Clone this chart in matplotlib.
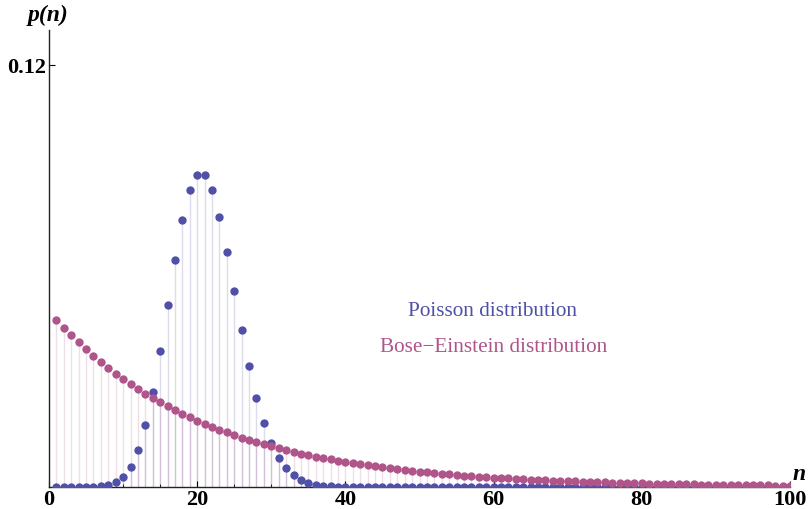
import matplotlib
matplotlib.use("Agg")
import matplotlib.pyplot as plt
import numpy as np

# positions (n index as plotted, 1..100)
positions = list(range(1, 101))

poisson_vals = [
    0.00000, 0.00000, 0.00000, 0.00000, 0.00001, 0.00006, 0.00018, 0.00052, 0.00131, 0.00291,
    0.00582, 0.01058, 0.01763, 0.02712, 0.03874, 0.05165, 0.06456, 0.07595, 0.08439, 0.08884,
    0.08884, 0.08461, 0.07691, 0.06688, 0.05574, 0.04459, 0.03430, 0.02541, 0.01815, 0.01252,
    0.00834, 0.00538, 0.00336, 0.00204, 0.00120, 0.00069, 0.00038, 0.00021, 0.00011, 0.00006,
    0.00003, 0.00001, 0.00001, 0.00000, 0.00000, 0.00000, 0.00000, 0.00000, 0.00000, 0.00000,
    0.00000, 0.00000, 0.00000, 0.00000, 0.00000, 0.00000, 0.00000, 0.00000, 0.00000, 0.00000,
    0.00000, 0.00000, 0.00000, 0.00000, 0.00000, 0.00000, 0.00000, 0.00000, 0.00000, 0.00000,
    0.00000, 0.00000, 0.00000, 0.00000, 0.00000, 0.00000, 0.00000, 0.00000, 0.00000, 0.00000,
    0.00000, 0.00000, 0.00000, 0.00000, 0.00000, 0.00000, 0.00000, 0.00000, 0.00000, 0.00000,
    0.00000, 0.00000, 0.00000, 0.00000, 0.00000, 0.00000, 0.00000, 0.00000, 0.00000, 0.00000,
]

bose_vals = [
    0.04762, 0.04535, 0.04319, 0.04114, 0.03918, 0.03731, 0.03554, 0.03384, 0.03223, 0.03070,
    0.02924, 0.02784, 0.02652, 0.02526, 0.02405, 0.02291, 0.02182, 0.02078, 0.01979, 0.01885,
    0.01795, 0.01709, 0.01628, 0.01551, 0.01477, 0.01406, 0.01339, 0.01276, 0.01215, 0.01157,
    0.01102, 0.01050, 0.01000, 0.00952, 0.00907, 0.00863, 0.00822, 0.00783, 0.00746, 0.00710,
    0.00677, 0.00644, 0.00614, 0.00584, 0.00557, 0.00530, 0.00505, 0.00481, 0.00458, 0.00436,
    0.00415, 0.00396, 0.00377, 0.00359, 0.00342, 0.00325, 0.00310, 0.00295, 0.00281, 0.00268,
    0.00255, 0.00243, 0.00231, 0.00220, 0.00210, 0.00200, 0.00190, 0.00181, 0.00173, 0.00164,
    0.00157, 0.00149, 0.00142, 0.00135, 0.00129, 0.00123, 0.00117, 0.00111, 0.00106, 0.00101,
    0.00096, 0.00092, 0.00087, 0.00083, 0.00079, 0.00075, 0.00072, 0.00068, 0.00065, 0.00062,
    0.00059, 0.00056, 0.00053, 0.00051, 0.00048, 0.00046, 0.00044, 0.00042, 0.00040, 0.00038,
]

x_major = [0, 20, 40, 60, 80, 100]
x_minor = [5, 10, 15, 25, 30, 35, 45, 50, 55, 65, 70, 75, 85, 90, 95]
y_ticks = [0.12]

label_poisson = "Poisson distribution"
label_bose = "Bose\u2212Einstein distribution"

c_poisson = "#5050A8"
c_bose = "#AF5589"

serif = ["Liberation Serif", "DejaVu Serif"]

fig = plt.figure(figsize=(8.10, 5.09), dpi=100)
ax = fig.add_axes([49/810, 22/509, 741/810, 457/509])

ax.vlines(positions, 0, poisson_vals, color=c_poisson, alpha=0.2, lw=1.0, zorder=1)
ax.vlines(positions, 0, bose_vals, color=c_bose, alpha=0.2, lw=1.0, zorder=1)
ax.plot(positions, poisson_vals, "o", color=c_poisson, ms=6.0, mec="none", zorder=3)
ax.plot(positions, bose_vals, "o", color=c_bose, ms=6.0, mec="none", zorder=4)

ax.set_xlim(0, 100)
ax.set_ylim(0, 0.13)

for s in ["top", "right"]:
    ax.spines[s].set_visible(False)
for s in ["left", "bottom"]:
    ax.spines[s].set_linewidth(1.0)
    ax.spines[s].set_color("#222222")

ax.set_xticks(x_major)
ax.set_xticks(x_minor, minor=True)
ax.set_yticks(y_ticks)
ax.set_xticklabels([str(v) for v in x_major], fontfamily=serif, fontweight="bold", fontsize=16)
ax.set_yticklabels(["0.12"], fontfamily=serif, fontweight="bold", fontsize=16)
ax.tick_params(axis="x", which="major", direction="in", length=4, width=0.8, pad=2)
ax.tick_params(axis="x", which="minor", direction="in", length=2.5, width=0.6)
ax.tick_params(axis="y", which="major", direction="in", length=4, width=0.8, pad=2)

ax.text(59.9, 0.0500, label_poisson, color=c_poisson, fontfamily=serif, fontsize=15.3,
        ha="center", va="center")
ax.text(60.0, 0.0398, label_bose, color=c_bose, fontfamily=serif, fontsize=15.3,
        ha="center", va="center")

fig.text(48/810, 1 - 15/509, "p(n)", fontfamily=serif, fontweight="bold", style="italic",
         fontsize=17, ha="center", va="center")
fig.text(799/810, 1 - 475/509, "n", fontfamily=serif, fontweight="bold", style="italic",
         fontsize=17, ha="center", va="center")

fig.savefig("out.png", dpi=100)
